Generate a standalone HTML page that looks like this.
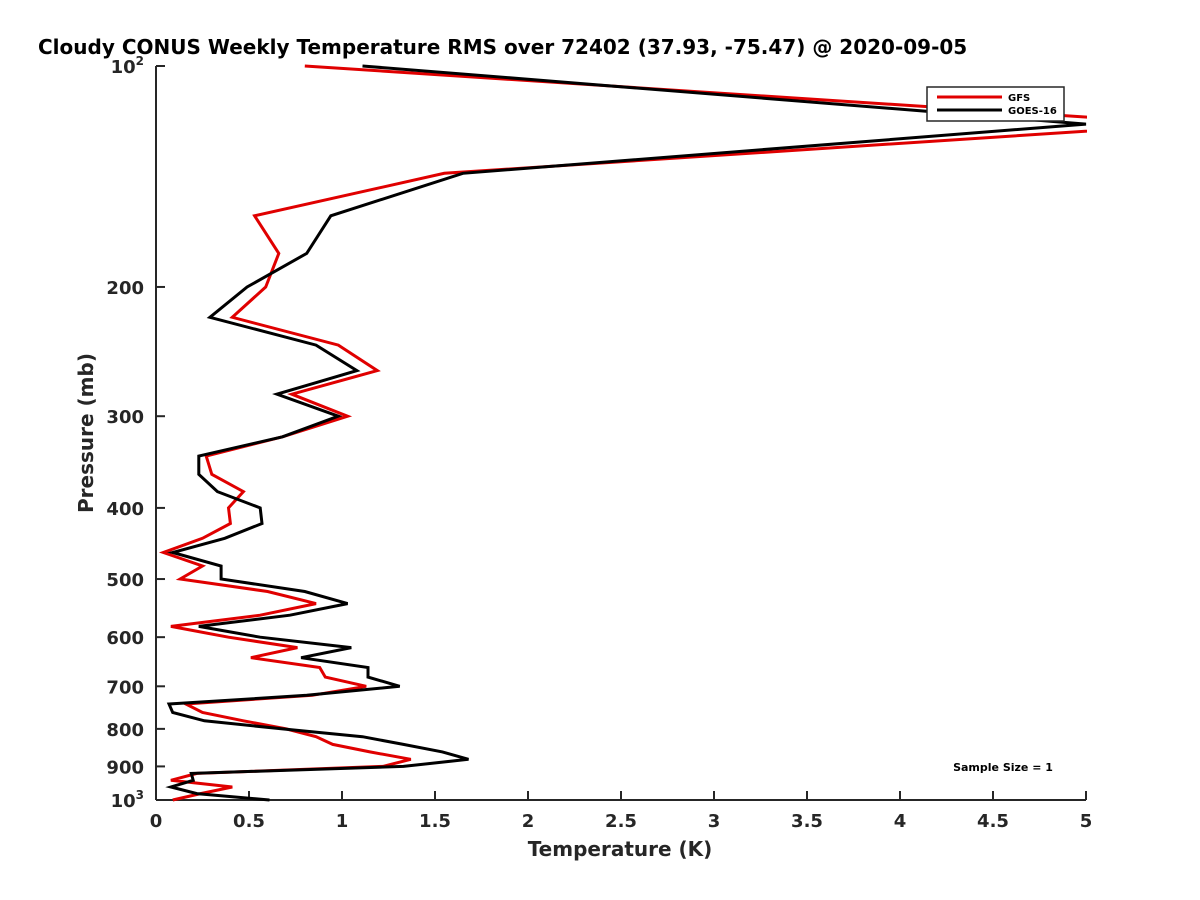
<!DOCTYPE html>
<html><head><meta charset="utf-8"><style>
html,body{margin:0;padding:0;background:#fff;}
svg{display:block;font-family:"DejaVu Sans","Liberation Sans",sans-serif;}
</style></head><body>
<svg id="chart" width="1200" height="900" viewBox="0 0 1200 900">
<defs><clipPath id="plotclip"><rect x="150" y="60" width="937" height="745"/></clipPath></defs>
<text x="38" y="54" text-anchor="start" font-size="20" font-weight="bold" fill="#000">Cloudy CONUS Weekly Temperature RMS over 72402 (37.93, -75.47) @ 2020-09-05</text>
<g id="axes"></g>
<g id="series" clip-path="url(#plotclip)"></g>
<text x="620" y="856" text-anchor="middle" font-size="20" font-weight="bold" fill="#262626">Temperature (K)</text>
<text transform="translate(93,433) rotate(-90)" text-anchor="middle" font-size="20" font-weight="bold" fill="#262626">Pressure (mb)</text>
<g>
<rect x="927" y="87" width="137" height="34" fill="#fff" stroke="#262626" stroke-width="1.5"/>
<line x1="937" y1="97" x2="1002" y2="97" stroke="#e00000" stroke-width="3"/>
<text x="1008" y="101" font-size="10" font-weight="bold" fill="#000">GFS</text>
<line x1="937" y1="110" x2="1002" y2="110" stroke="#000" stroke-width="3"/>
<text x="1008" y="114" font-size="10" font-weight="bold" fill="#000">GOES-16</text>
</g>
<text x="1003" y="771" text-anchor="middle" font-size="11" font-weight="bold" fill="#000">Sample Size = 1</text>
</svg>
<script>
const pressures = [100,120,140,160,180,200,220,240,260,280,300,320,340,360,380,400,420,440,460,480,500,520,540,560,580,600,620,640,660,680,700,720,740,760,780,800,820,840,860,880,900,920,940,960,980,1000];
const gfsRms = [0.80,5.58,1.55,0.53,0.66,0.59,0.41,0.98,1.19,0.73,1.03,0.68,0.27,0.30,0.47,0.39,0.40,0.25,0.04,0.25,0.13,0.60,0.86,0.56,0.08,0.39,0.76,0.51,0.88,0.91,1.13,0.84,0.16,0.25,0.47,0.70,0.86,0.95,1.15,1.37,1.22,0.22,0.08,0.41,0.24,0.09];
const goesRms = [1.11,5.0,1.65,0.94,0.81,0.49,0.29,0.86,1.08,0.65,0.98,0.68,0.23,0.23,0.33,0.56,0.57,0.37,0.09,0.35,0.35,0.80,1.03,0.72,0.23,0.56,1.05,0.78,1.14,1.14,1.31,0.81,0.07,0.09,0.26,0.68,1.11,1.33,1.54,1.68,1.33,0.19,0.20,0.08,0.22,0.61];
const xTicks = [0,0.5,1,1.5,2,2.5,3,3.5,4,4.5,5];
const xTickLabels = ["0","0.5","1","1.5","2","2.5","3","3.5","4","4.5","5"];
const yTicks = [100,200,300,400,500,600,700,800,900,1000];
const yTickLabels = ["10|2","200","300","400","500","600","700","800","900","10|3"];

const L=156,R=1086,T=66,B=800;
const xs = v => L + (v-0)/(5-0)*(R-L);
const ys = p => T + (Math.log10(p)-2)/(3-2)*(B-T);
const NS="http://www.w3.org/2000/svg";
function mk(tag, attrs, parent){const e=document.createElementNS(NS,tag);for(const k in attrs)e.setAttribute(k,attrs[k]);parent.appendChild(e);return e;}
const axes=document.getElementById('axes');
const series=document.getElementById('series');

let ax=mk('line',{x1:L,y1:B,x2:R,y2:B,stroke:'#262626','stroke-width':2},axes);


let ay=mk('line',{x1:L,y1:T,x2:L,y2:B,stroke:'#262626','stroke-width':2},axes);



xTicks.forEach((v,i)=>{
  const x=xs(v);
  const t=mk('line',{x1:x,y1:B,x2:x,y2:B-9,stroke:'#262626','stroke-width':2},axes);
  
  
  const lb=mk('text',{x:x,y:B+27,'text-anchor':'middle','font-size':18,'font-weight':'bold',fill:'#262626'},axes);
  lb.textContent=xTickLabels[i];
  
  
});
yTicks.forEach((p,i)=>{
  const y=ys(p);
  const t=mk('line',{x1:L,y1:y,x2:L+9,y2:y,stroke:'#262626','stroke-width':2},axes);
  
  
  const parts=yTickLabels[i].split('|');
  const lb=mk('text',{x:L-12,y:y+7,'text-anchor':'end','font-size':18,'font-weight':'bold',fill:'#262626'},axes);
  
  
  if(parts.length>1){
    const a=mk('tspan',{},lb); a.textContent=parts[0];
    const b=mk('tspan',{dy:-8,'font-size':12},lb); b.textContent=parts[1];
  } else lb.textContent=parts[0];
});

function drawLine(vals,color,name){
  const pts=vals.map((v,i)=>xs(v).toFixed(1)+','+ys(pressures[i]).toFixed(1)).join(' ');
  const pl=mk('polyline',{points:pts,fill:'none',stroke:color,'stroke-width':3,'stroke-linejoin':'miter'},series);
  
  
}
drawLine(gfsRms,'#e00000','gfs-line');
drawLine(goesRms,'#000000','goes16-line');
</script>
</body></html>
